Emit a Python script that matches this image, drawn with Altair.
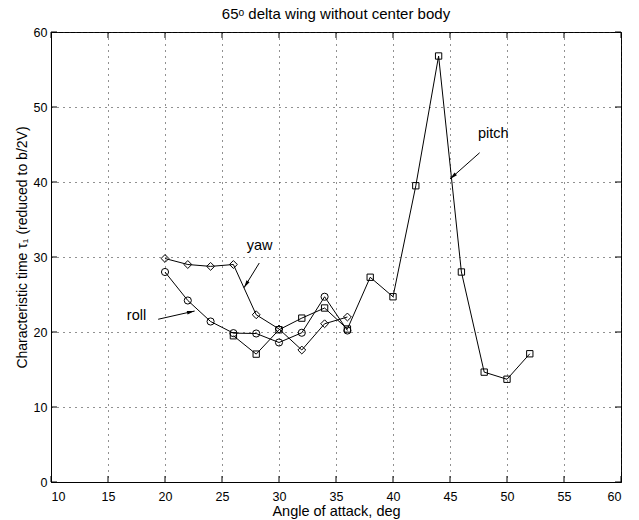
import math
import altair as alt
import pandas as pd

# ---- data ----
aoa_pitch = [26, 28, 30, 32, 34, 36, 38, 40, 42, 44, 46, 48, 50, 52]
tau_pitch = [19.5, 17.05, 20.3, 21.85, 23.2, 20.4, 27.3, 24.7, 39.5, 56.8, 28.0, 14.65, 13.7, 17.1]
aoa_roll = [20, 22, 24, 26, 28, 30, 32, 34, 36]
tau_roll = [28.0, 24.2, 21.4, 19.85, 19.8, 18.6, 19.9, 24.7, 20.2]
aoa_yaw = [20, 22, 24, 26, 28, 30, 32, 34, 36]
tau_yaw = [29.8, 29.0, 28.75, 29.0, 22.3, 20.4, 17.6, 21.1, 22.0]

x_ticks = list(range(10, 61, 5))
y_ticks = list(range(0, 61, 10))

ann_labels = ["yaw", "roll", "pitch"]
ann_label_x = [28.3, 17.5, 48.8]
ann_label_y = [31.5, 22.1, 46.4]
arrow_x0 = [28.27, 19.4, 47.6]
arrow_y0 = [29.2, 21.7, 43.9]
arrow_x1 = [26.93, 22.6, 45.0]
arrow_y1 = [25.9, 22.8, 40.4]

W, H = 570, 450
XMIN, XMAX, YMIN, YMAX = 10, 60, 0, 60
FONT = "Liberation Sans"

rows = []
for s, xs_, ys_ in [("pitch", aoa_pitch, tau_pitch), ("roll", aoa_roll, tau_roll), ("yaw", aoa_yaw, tau_yaw)]:
    for a, t in zip(xs_, ys_):
        rows.append({"series": s, "aoa": a, "tau": t})
df = pd.DataFrame(rows)

ann = pd.DataFrame({
    "label": ann_labels, "lx": ann_label_x, "ly": ann_label_y,
    "x0": arrow_x0, "y0": arrow_y0, "x1": arrow_x1, "y1": arrow_y1,
})
angles = []
for x0, y0, x1, y1 in zip(arrow_x0, arrow_y0, arrow_x1, arrow_y1):
    dx = (x1 - x0) * W / (XMAX - XMIN)
    dy = -(y1 - y0) * H / (YMAX - YMIN)
    angles.append(math.degrees(math.atan2(dx, -dy)) % 360)
ann["angle"] = angles

xs = alt.Scale(domain=[XMIN, XMAX], nice=False, zero=False)
ys = alt.Scale(domain=[YMIN, YMAX], nice=False)

axis_common = dict(
    grid=True, ticks=False,
    labelFont=FONT, labelFontSize=12.5, labelColor="black",
    titleFont=FONT, titleFontWeight="normal", titleColor="black",
    domainColor="black", domainWidth=1,
    gridColor="#222222", gridDash=[1, 5], gridWidth=1, gridOpacity=1,
)

x_enc = alt.X("aoa:Q", scale=xs, axis=alt.Axis(
    values=x_ticks, title="Angle of attack, deg", labelPadding=8,
    titleFontSize=14.5, titleX=W / 2, titleY=29, titleAlign="center", titleBaseline="middle",
    **axis_common))
y_enc = alt.Y("tau:Q", scale=ys, axis=alt.Axis(
    values=y_ticks, title="Characteristic time \u03c4\u2081  (reduced to b/2V)",
    labelPadding=4, titleFontSize=14, titleX=-29, titleY=215, titleAlign="center",
    titleBaseline="middle", titleAngle=270, **axis_common))

base = alt.Chart(df)
lines = base.mark_line(color="black", strokeWidth=1).encode(
    x=x_enc, y=y_enc, detail="series:N", order="aoa:Q")
points = base.mark_point(filled=False, color="black", strokeWidth=1, opacity=1).encode(
    x=alt.X("aoa:Q", scale=xs),
    y=alt.Y("tau:Q", scale=ys),
    shape=alt.Shape("series:N", scale=alt.Scale(domain=["pitch", "roll", "yaw"],
                                                 range=["square", "circle", "diamond"]), legend=None),
    size=alt.Size("series:N", scale=alt.Scale(domain=["pitch", "roll", "yaw"], range=[40, 62, 62]), legend=None),
)

xt_df = pd.DataFrame({"xt": x_ticks})
yt_df = pd.DataFrame({"yt": y_ticks})
xt_bottom = alt.Chart(xt_df).mark_rule(color="black", strokeWidth=1).encode(
    x=alt.X("xt:Q", scale=xs), y=alt.value(H), y2=alt.value(H - 6))
xt_top = alt.Chart(xt_df).mark_rule(color="black", strokeWidth=1).encode(
    x=alt.X("xt:Q", scale=xs), y=alt.value(0), y2=alt.value(6))
yt_left = alt.Chart(yt_df).mark_rule(color="black", strokeWidth=1).encode(
    y=alt.Y("yt:Q", scale=ys), x=alt.value(0), x2=alt.value(6))
yt_right = alt.Chart(yt_df).mark_rule(color="black", strokeWidth=1).encode(
    y=alt.Y("yt:Q", scale=ys), x=alt.value(W), x2=alt.value(W - 6))

annb = alt.Chart(ann)
arrow_lines = annb.mark_rule(color="black", strokeWidth=1).encode(
    x=alt.X("x0:Q", scale=xs), y=alt.Y("y0:Q", scale=ys),
    x2="x1:Q", y2="y1:Q")
arrow_heads = annb.mark_point(filled=True, color="black", opacity=1,
                              shape="M0,0L-0.32,1.4L0.32,1.4Z", size=120, strokeWidth=0).encode(
    x=alt.X("x1:Q", scale=xs), y=alt.Y("y1:Q", scale=ys),
    angle=alt.Angle("angle:Q", scale=None))
ann_text = annb.mark_text(font=FONT, fontSize=14.5, color="black", align="center", baseline="middle").encode(
    x=alt.X("lx:Q", scale=xs), y=alt.Y("ly:Q", scale=ys), text="label:N")

chart = alt.layer(
    lines, points, xt_bottom, xt_top, yt_left, yt_right, arrow_lines, arrow_heads, ann_text
).properties(
    width=W, height=H,
    background="white",
    title=alt.TitleParams("65\u1d52 delta wing without center body", font=FONT, fontSize=15,
                          fontWeight="normal", anchor="middle", offset=4, color="black"),
    autosize=alt.AutoSizeParams(type="none"),
    padding={"left": 51, "top": 32, "right": 18, "bottom": 38},
).configure_view(
    stroke="black", strokeWidth=1
)

chart.save("out.html", embed_options={"renderer": "svg", "actions": False})
